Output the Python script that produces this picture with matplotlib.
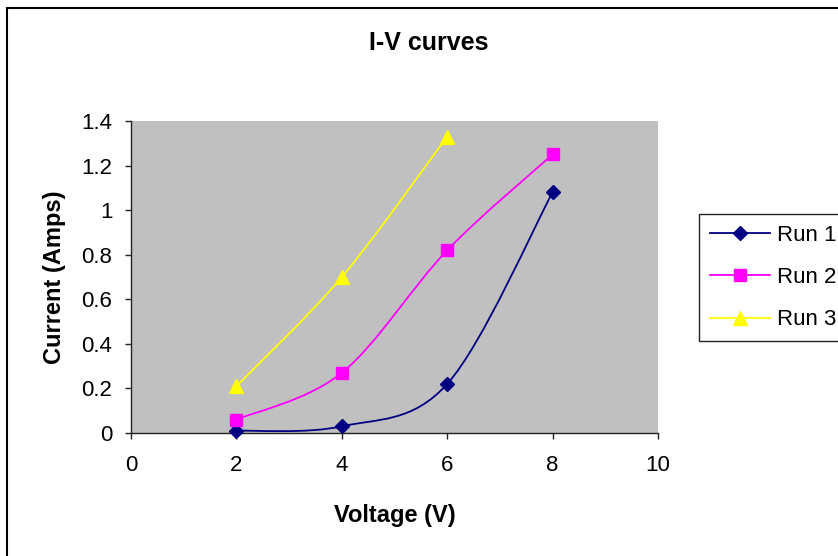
import matplotlib
matplotlib.use("Agg")
import matplotlib.pyplot as plt
from matplotlib.path import Path
from matplotlib.patches import PathPatch, Rectangle
from matplotlib.lines import Line2D

# readings
voltage = [2, 4, 6, 8]
run1 = [0.01, 0.03, 0.22, 1.08]
run2 = [0.06, 0.27, 0.82, 1.25]
voltage3 = [2, 4, 6]
run3 = [0.21, 0.70, 1.33]

series_names = ["Run 1", "Run 2", "Run 3"]
xticks = [0, 2, 4, 6, 8, 10]
yticks = [0, 0.2, 0.4, 0.6, 0.8, 1.0, 1.2, 1.4]

plt.rcParams['font.family'] = ['Liberation Sans', 'DejaVu Sans']


# excel style smoothed line (catmull-rom as bezier)
def smooth_path(xs, ys):
    pts = list(zip(xs, ys))
    verts = [pts[0]]
    codes = [Path.MOVETO]
    n = len(pts)
    for i in range(n - 1):
        p0 = pts[max(i - 1, 0)]
        p1 = pts[i]
        p2 = pts[i + 1]
        p3 = pts[min(i + 2, n - 1)]
        c1 = (p1[0] + (p2[0] - p0[0]) / 6, p1[1] + (p2[1] - p0[1]) / 6)
        c2 = (p2[0] - (p3[0] - p1[0]) / 6, p2[1] - (p3[1] - p1[1]) / 6)
        verts += [c1, c2, p2]
        codes += [Path.CURVE4] * 3
    return Path(verts, codes)


W, H = 838, 556
fig = plt.figure(figsize=(W / 100, H / 100), dpi=100)
ax = fig.add_axes([131 / W, 1 - 433 / H, (658 - 131) / W, (433 - 121) / H])
ax.set_facecolor('#C0C0C0')
ax.set_xlim(0, 10)
ax.set_ylim(0, 1.4)

styles = [
    (voltage, run1, '#000080', 'D', 6.8),
    (voltage, run2, '#FF00FF', 's', 9),
    (voltage3, run3, '#FFFF00', '^', 10.5),
]
handles = []
for (xs, ys, col, mk, ms), name in zip(styles, series_names):
    ax.add_patch(PathPatch(smooth_path(xs, ys), facecolor='none', edgecolor=col,
                           lw=1.3, zorder=2))
    ax.plot(xs, ys, ls='none', marker=mk, ms=ms, color=col, mec=col, zorder=3,
            clip_on=False)
    handles.append(Line2D([], [], color=col, lw=1.3, marker=mk, ms=ms, mec=col, label=name))

for s in ['top', 'right']:
    ax.spines[s].set_visible(False)
for s in ['left', 'bottom']:
    ax.spines[s].set_color('#222222')
    ax.spines[s].set_linewidth(1)

ax.set_xticks(xticks)
ax.set_xticklabels([f"{v:g}" for v in xticks])
ax.set_yticks(yticks)
ax.set_yticklabels([f"{v:g}" for v in yticks])
ax.tick_params(axis='both', direction='out', length=4.5, width=1, color='#222222',
               labelsize=16)
ax.tick_params(axis='y', pad=9)
ax.tick_params(axis='x', pad=11)

fig.text(428.5 / W, 1 - 50 / H, "I-V curves", ha='center', va='baseline',
         fontsize=18, fontweight='bold')
fig.text(394.5 / W, 1 - 522 / H, "Voltage (V)", ha='center', va='baseline',
         fontsize=17, fontweight='bold')
fig.text(55 / W, 1 - 277 / H, "Current (Amps)", ha='center', va='center',
         rotation=90, fontsize=17, fontweight='bold')

leg = ax.legend(handles=handles, loc='upper left', bbox_to_anchor=(699 / W, 1 - 214 / H),
                bbox_transform=fig.transFigure, borderaxespad=0, fontsize=16,
                handlelength=2.7, handletextpad=0.3, labelspacing=0.95,
                borderpad=0.5, fancybox=False, framealpha=1, edgecolor='#222222')
leg.get_frame().set_linewidth(1)

# outer chart border (runs off the right and bottom edges)
fig.patches.append(Rectangle((7 / W, -0.1), 2, 1 - 8 / H + 0.1, transform=fig.transFigure,
                             fill=False, ec='black', lw=1.5))

fig.savefig("out.png", dpi=100)
